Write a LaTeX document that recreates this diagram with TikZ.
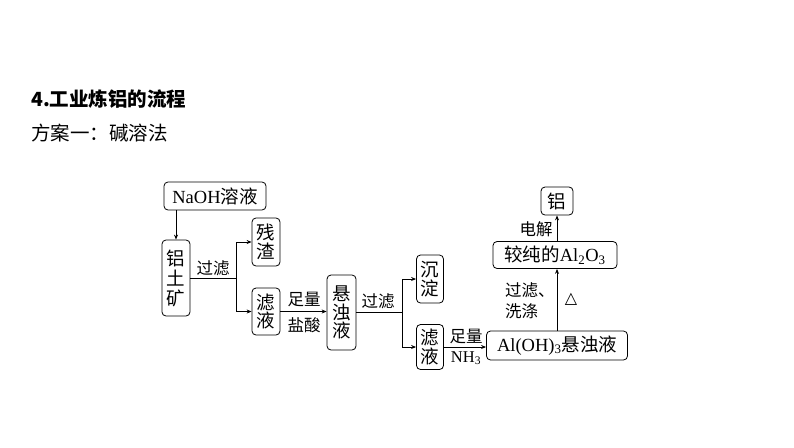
\documentclass[tikz,border=0pt]{standalone}
\usepackage{fontspec}
\setmainfont{Liberation Serif}
\newfontfamily\cjk{Noto Sans CJK SC}
\newfontfamily\symfont{DejaVu Sans}
\usetikzlibrary{arrows.meta}
\newcommand\bxfont{\fontsize{18.5}{18.5}\selectfont}
\newcommand\lbfont{\fontsize{16.5}{18}\selectfont}
\tikzset{
  box/.style={draw, rounded corners=4pt, line width=0.8pt, inner sep=0pt, align=center, font=\bxfont},
  vbox/.style={box, font=\cjk\bxfont},
  lbl/.style={inner sep=0pt, font=\cjk\lbfont},
  conn/.style={line width=0.8pt},
  arr/.style={conn, -{Stealth[length=5pt,width=4pt]}}
}
\begin{document}
\begin{tikzpicture}[x=1pt,y=-1pt]
\useasboundingbox (0,0) rectangle (794,447);
% titles
\node[anchor=west, inner sep=0pt, font=\cjk\bfseries\fontsize{19.5}{22}\selectfont] (title) at (31,99) {4.工业炼铝的流程};
\node[anchor=west, inner sep=0pt, font=\cjk\fontsize{19.5}{22}\selectfont] (sub) at (31,133) {方案一：碱溶法};
% boxes
\node[box, minimum width=102pt, minimum height=28pt] (naoh) at (215,196) {NaOH{\cjk 溶液}};
\node[vbox, minimum width=28pt, minimum height=76pt] (ore) at (176,278) {铝\\[1.5pt]土\\[1.5pt]矿};
\node[vbox, minimum width=28pt, minimum height=48pt] (zha) at (266,242) {残\\渣};
\node[vbox, minimum width=28pt, minimum height=47pt] (lv1) at (266,311.5) {滤\\液};
\node[vbox, minimum width=29pt, minimum height=75pt] (xz) at (341.5,312.5) {悬\\浊\\液};
\node[vbox, minimum width=27pt, minimum height=48pt] (cd) at (430,279) {沉\\淀};
\node[vbox, minimum width=27pt, minimum height=45pt] (lv2) at (430,347) {滤\\液};
\node[box, minimum width=141pt, minimum height=29pt] (aloh) at (557,345.5) {Al(OH)\textsubscript{3}{\cjk 悬浊液}};
\node[box, minimum width=124pt, minimum height=27pt] (jc) at (555,255) {{\cjk 较纯的}Al\textsubscript{2}O\textsubscript{3}};
\node[vbox, minimum width=32pt, minimum height=28pt] (al) at (557,201) {铝};
% connectors
\draw[arr] (naoh.south -| ore.north) -- (ore.north);
\draw[conn] (ore.east) -- ++(46,0) coordinate (b1);
\draw[arr] (b1) |- (zha.west);
\draw[arr] (b1) |- (lv1.west);
\draw[arr] (lv1.east) -- (xz.west |- lv1.east);
\draw[conn] (xz.east) -- ++(46,0) coordinate (b2);
\draw[arr] (b2) |- (cd.west);
\draw[arr] (b2) |- (lv2.west);
\draw[arr] (lv2.east) -- (aloh.west |- lv2.east);
\draw[arr] (aloh.north) -- (aloh.north |- jc.south);
\draw[arr] (jc.north -| al.south) -- (al.south);
% labels
\node[lbl] (l1) at (213,268) {过滤};
\node[lbl] (l2) at (304,299) {足量};
\node[lbl] (l3) at (304,325) {盐酸};
\node[lbl] (l4) at (378,301) {过滤};
\node[lbl] (l5) at (466,336) {足量};
\node[lbl, font=\lbfont] (l6) at (466,358) {NH\textsubscript{3}};
\node[lbl, anchor=west] (l7) at (505,290) {过滤、};
\node[lbl, anchor=west] (l8) at (505,311) {洗涤};
\node[inner sep=0pt, font=\symfont\fontsize{16}{18}\selectfont] (l9) at (571,299) {△};
\node[lbl] (l10) at (536,229) {电解};
\end{tikzpicture}
\end{document}
